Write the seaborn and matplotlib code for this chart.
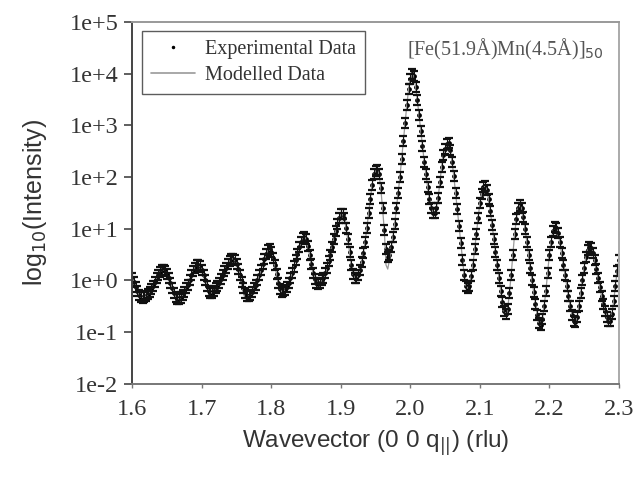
import numpy as np
import pandas as pd
import seaborn as sns
import matplotlib.pyplot as plt
from matplotlib.lines import Line2D

# wavevector grid (rlu), one sample every 0.0025 from 1.6 to 2.3
q = np.round(np.linspace(1.6, 2.3, 281), 4)

# experimental intensity, as log10 values (10 per 0.025 rlu)
exp_log = [
    0.05, -0.03, -0.12, -0.20, -0.28, -0.32, -0.33, -0.32, -0.30, -0.27,
    -0.22, -0.16, -0.10, -0.03, 0.05, 0.11, 0.17, 0.20, 0.21, 0.18,
    0.12, 0.04, -0.05, -0.15, -0.25, -0.32, -0.36, -0.35, -0.33, -0.28,
    -0.22, -0.15, -0.08, 0.01, 0.10, 0.18, 0.25, 0.29, 0.30, 0.27,
    0.20, 0.11, 0.00, -0.11, -0.20, -0.24, -0.24, -0.20, -0.15, -0.10,
    -0.05, 0.02, 0.10, 0.18, 0.25, 0.32, 0.38, 0.41, 0.42, 0.39,
    0.32, 0.22, 0.10, -0.03, -0.15, -0.24, -0.30, -0.30, -0.28, -0.22,
    -0.15, -0.08, 0.00, 0.10, 0.20, 0.31, 0.42, 0.51, 0.58, 0.60,
    0.55, 0.44, 0.30, 0.12, -0.05, -0.16, -0.22, -0.21, -0.18, -0.12,
    -0.05, 0.05, 0.15, 0.27, 0.40, 0.52, 0.65, 0.75, 0.83, 0.85,
    0.80, 0.67, 0.50, 0.32, 0.15, 0.03, -0.05, -0.07, -0.05, 0.00,
    0.05, 0.14, 0.25, 0.37, 0.50, 0.65, 0.80, 0.95, 1.10, 1.21,
    1.28, 1.28, 1.20, 1.02, 0.80, 0.55, 0.30, 0.12, 0.05, 0.05,
    0.10, 0.20, 0.35, 0.53, 0.75, 1.02, 1.30, 1.58, 1.85, 2.05,
    2.12, 2.14, 2.05, 1.78, 1.40, 0.98, 0.60, 0.46, 0.50, 0.64,
    0.85, 1.10, 1.40, 1.70, 2.00, 2.35, 2.70, 3.05, 3.40, 3.70,
    3.90, 4.00, 3.95, 3.75, 3.50, 3.20, 2.90, 2.60, 2.30, 2.05,
    1.80, 1.58, 1.40, 1.30, 1.30, 1.40, 1.60, 1.90, 2.20, 2.42,
    2.55, 2.64, 2.65, 2.52, 2.30, 2.02, 1.70, 1.38, 1.05, 0.72,
    0.40, 0.10, -0.10, -0.15, -0.10, 0.08, 0.30, 0.60, 0.90, 1.20,
    1.50, 1.68, 1.80, 1.83, 1.75, 1.57, 1.35, 1.08, 0.80, 0.55,
    0.30, 0.05, -0.20, -0.42, -0.60, -0.65, -0.55, -0.25, 0.10, 0.50,
    0.90, 1.18, 1.40, 1.45, 1.40, 1.22, 1.00, 0.75, 0.50, 0.25,
    0.00, -0.23, -0.45, -0.66, -0.82, -0.86, -0.75, -0.50, -0.20, 0.15,
    0.50, 0.75, 0.95, 1.04, 1.02, 0.91, 0.75, 0.53, 0.30, 0.10,
    -0.10, -0.30, -0.50, -0.66, -0.78, -0.80, -0.70, -0.50, -0.25, 0.00,
    0.25, 0.45, 0.58, 0.64, 0.62, 0.53, 0.40, 0.23, 0.05, -0.13,
    -0.30, -0.46, -0.60, -0.71, -0.78, -0.78, -0.65, -0.40, -0.10, 0.18,
    0.40,
]

# modelled curve follows the data except in a few places
model_log = list(exp_log)
model_log[63] = -0.10
model_log[64] = -0.25
model_log[65] = -0.35
model_log[66] = -0.38
model_log[146] = 0.30
model_log[147] = 0.22
model_log[148] = 0.40

intensity = 10 ** np.array(exp_log)
model = 10 ** np.array(model_log)
df = pd.DataFrame({"q": q, "exp": intensity, "model": model})

y_ticks = [1e-2, 1e-1, 1e0, 1e1, 1e2, 1e3, 1e4, 1e5]
y_labels = ["1e-2", "1e-1", "1e+0", "1e+1", "1e+2", "1e+3", "1e+4", "1e+5"]
x_ticks = [1.6, 1.7, 1.8, 1.9, 2.0, 2.1, 2.2, 2.3]
x_labels = ["1.6", "1.7", "1.8", "1.9", "2.0", "2.1", "2.2", "2.3"]

sns.set_style("white")
fig = plt.figure(figsize=(6.42, 4.78), dpi=100)
ax = fig.add_axes([0.206, 0.197, 0.758, 0.757])

# modelled data line
sns.lineplot(data=df, x="q", y="model", ax=ax, color="#999999", lw=0.9)

# experimental points with error bars
err_lo = df["exp"] - df["exp"] / 1.25
err_hi = df["exp"] * 1.25 - df["exp"]
ax.errorbar(df["q"], df["exp"], yerr=[err_lo, err_hi], fmt="none",
            ecolor="#111111", elinewidth=0.8, capsize=3, capthick=1.6)
sns.scatterplot(data=df, x="q", y="exp", ax=ax, color="black", s=12,
                edgecolor="black", linewidth=0)

ax.set_yscale("log")
ax.set_xlim(1.6, 2.3)
ax.set_ylim(1e-2, 1e5)
ax.set_yticks(y_ticks)
ax.set_yticklabels(y_labels)
ax.minorticks_off()
ax.set_xticks(x_ticks)
ax.set_xticklabels(x_labels)

for lab in ax.get_xticklabels() + ax.get_yticklabels():
    lab.set_family("Liberation Serif")
    lab.set_fontsize(17.5)
    lab.set_color("#333333")

ax.tick_params(axis="y", direction="out", length=6, width=1.2,
               color="#444444", left=True, pad=4)
ax.tick_params(axis="x", direction="out", length=3, width=1.0,
               color="#777777", bottom=True, pad=8)

ax.set_xlabel(r"Wavevector (0 0 q$_{||}$) (rlu)", family="Liberation Sans",
              fontsize=17.5, color="#333333", labelpad=6)
ax.set_ylabel(r"log$_{10}$(Intensity)", family="Liberation Sans",
              fontsize=18, color="#333333", labelpad=15)

ax.spines["left"].set_color("#444444")
ax.spines["bottom"].set_color("#777777")
ax.spines["top"].set_color("#999999")
ax.spines["right"].set_color("#aaaaaa")
for s in ax.spines.values():
    s.set_linewidth(1.4)

handles = [
    Line2D([], [], ls="none", marker=".", ms=3, color="black"),
    Line2D([], [], color="#999999", lw=1.2),
]
leg = ax.legend(handles, ["Experimental Data", "Modelled Data"],
                loc="upper left", bbox_to_anchor=(0.02, 0.975),
                borderaxespad=0,
                prop={"family": "Liberation Serif", "size": 14.5},
                frameon=True, fancybox=False, edgecolor="#333333",
                handlelength=2.2, borderpad=0.45, labelspacing=0.35,
                handletextpad=0.5)
leg.get_frame().set_linewidth(1.0)
for t in leg.get_texts():
    t.set_color("#333333")

ax.text(0.565, 0.925, r"[Fe(51.9Å)Mn(4.5Å)]$_{50}$", transform=ax.transAxes,
        family="Liberation Serif", fontsize=14.5, color="#555555", va="center")

fig.savefig("out.png", dpi=100)
